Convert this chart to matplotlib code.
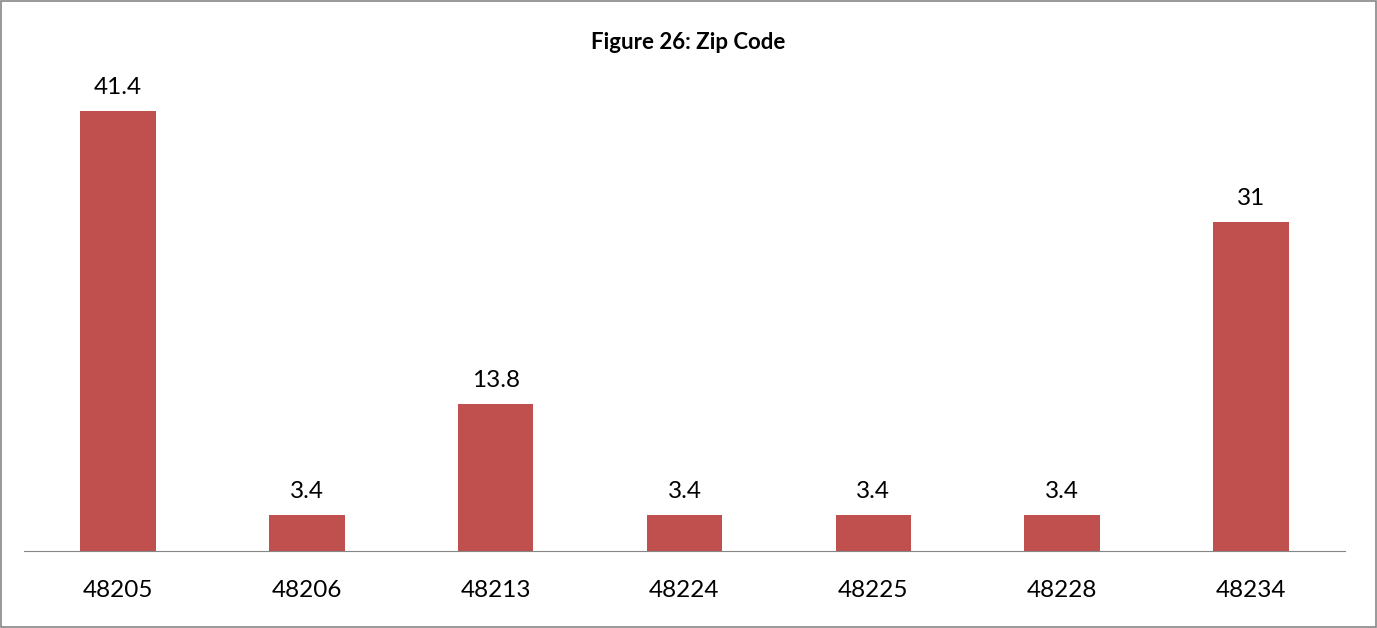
import matplotlib.pyplot as plt
from matplotlib.patches import Rectangle

zip_codes = ["48205", "48206", "48213", "48224", "48225", "48228", "48234"]
percents = [41.4, 3.4, 13.8, 3.4, 3.4, 3.4, 31]
value_labels = ["41.4", "3.4", "13.8", "3.4", "3.4", "3.4", "31"]

plt.rcParams['font.family'] = ['Lato', 'DejaVu Sans']

fig = plt.figure(figsize=(13.77, 6.28), dpi=100)
ax = fig.add_axes([0.01707, 0.1226, 0.960, 0.761])

x = range(len(zip_codes))
bars = ax.bar(x, percents, width=0.4, color="#C0504D")
for b, lab in zip(bars, value_labels):
    ax.text(b.get_x() + b.get_width() / 2, b.get_height() + 1.25, lab,
            ha="center", va="bottom", fontsize=17.5)

ax.set_xlim(-0.5, len(zip_codes) - 0.5)
ax.set_ylim(0, 45)
ax.set_xticks(list(x))
ax.set_xticklabels(zip_codes, fontsize=17.5)
ax.tick_params(axis="x", length=0, pad=21)
ax.set_yticks([])
for s in ["top", "left", "right"]:
    ax.spines[s].set_visible(False)
ax.spines["bottom"].set_color("#868686")

fig.text(0.5, 0.933, "Figure 26: Zip Code", ha="center", va="center",
         fontsize=16, fontweight="bold")

fig.patches.append(Rectangle((0.0007, 0.0015), 0.9986, 0.997, transform=fig.transFigure,
                             fill=False, edgecolor="#868686", linewidth=1.2))

fig.savefig("out.png", dpi=100)
